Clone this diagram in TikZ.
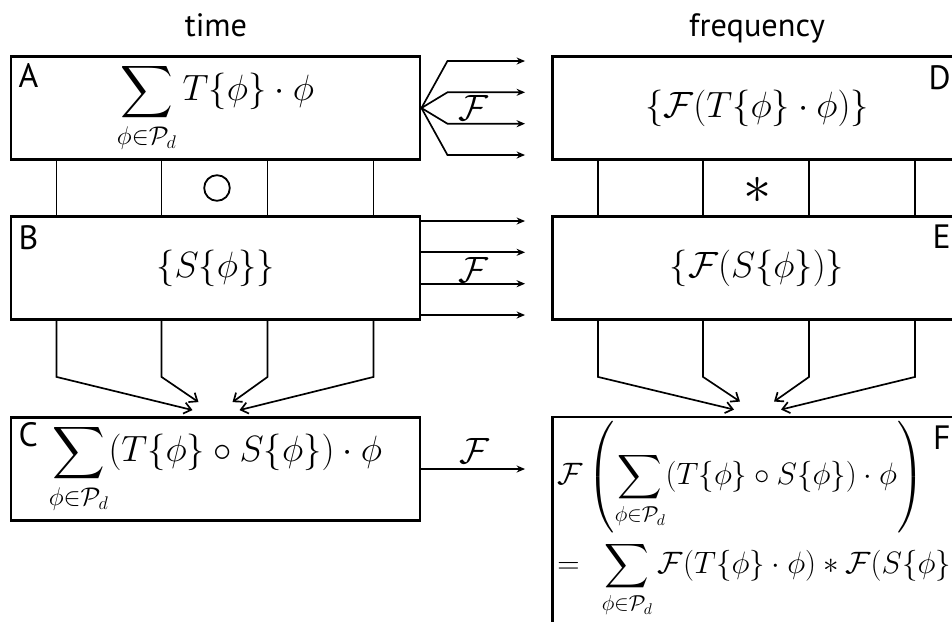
\RequirePackage{fix-cm}
\documentclass[tikz,border=0pt]{standalone}
\usepackage{amsmath,amssymb}
\usepackage{fontspec}
\setsansfont{PT Sans}
\usetikzlibrary{calc,arrows.meta,positioning}

\begin{document}
\begin{tikzpicture}[
  x=0.025cm, y=-0.025cm,
  block/.style={rectangle, draw, line width=2pt, minimum width=10.225cm, minimum height=2.575cm, inner sep=0pt},
  corner/.style={font=\sffamily\fontsize{24}{28}\selectfont, inner sep=0pt},
  heading/.style={font=\sffamily\fontsize{23}{27}\selectfont, inner sep=0pt},
  formula/.style={font=\fontsize{26}{31}\selectfont},
  wire/.style={line width=1.2pt},
  ray/.style={line width=1.2pt, -{Stealth[length=6pt,width=5pt]}},
  merge/.style={line width=1.2pt, -{Straight Barb[length=5pt,width=8pt]}}
]
  \clip (0,0) rectangle (952,621);
  \path[use as bounding box] (0,0) rectangle (952,621);

  \node[heading, anchor=base] (time) at (216,36) {time};
  \node[heading, anchor=base] (freq) at (757,36) {frequency};

  \node[block, formula, label={[corner, anchor=north west, xshift=0.22cm, yshift=-0.2cm]north west:A}] (A) at (215.5,108)
    {$\displaystyle\sum_{\phi\in\mathcal{P}_d} T\{\phi\}\cdot\phi$};
  \node[block, formula, label={[corner, anchor=north west, xshift=0.22cm, yshift=-0.25cm]north west:B}] (B) at (215.5,268)
    {$\{S\{\phi\}\}$};
  \node[block, formula, label={[corner, anchor=north west, xshift=0.22cm, yshift=-0.15cm]north west:C}] (C) at (215.5,469)
    {$\displaystyle\sum_{\phi\in\mathcal{P}_d} (T\{\phi\}\circ S\{\phi\})\cdot\phi$};
  \node[block, formula, label={[corner, anchor=north east, xshift=-0.3cm, yshift=-0.25cm]north east:D}] (D) at (757,108)
    {$\{\mathcal{F}(T\{\phi\}\cdot\phi)\}$};
  \node[block, formula, label={[corner, anchor=north east, xshift=-0.3cm, yshift=-0.25cm]north east:E}] (E) at (757,268)
    {$\{\mathcal{F}(S\{\phi\})\}$};
  \node[block, minimum height=5.75cm, label={[corner, anchor=north east, xshift=-0.3cm, yshift=-0.25cm]north east:F}] (F) at (757,532) {};
  \node[font=\fontsize{22}{26}\selectfont, anchor=north west, inner sep=0pt] (fsum) at (557,421)
    {$\begin{aligned}
      &\displaystyle\mathcal{F}\left(\sum_{\phi\in\mathcal{P}_d}(T\{\phi\}\circ S\{\phi\})\cdot\phi\right)\\[2pt]
      &\displaystyle{=}\;\;\sum_{\phi\in\mathcal{P}_d}\mathcal{F}(T\{\phi\}\cdot\phi)\ast\mathcal{F}(S\{\phi\})
    \end{aligned}$};

  \node[circle, draw, line width=1.3pt, minimum size=0.64cm, inner sep=0pt] (conv) at (217,188) {};
  \node[font=\fontsize{40}{48}\selectfont, inner sep=0pt] (star) at (758,190) {$\ast$};

  \foreach \dx in {47,152,258,364} {
    \draw[wire] ($(A.south west)+(\dx,0)$) -- ($(B.north west)+(\dx,0)$);
    \draw[wire] ($(D.south west)+(\dx,0)$) -- ($(E.north west)+(\dx,0)$);
  }
  \foreach \dx/\tx/\ty in {47/-23/-6, 152/-17/-14, 258/17/-14, 364/24/-6} {
    \draw[merge] ($(B.south west)+(\dx,0)$) -- ++(0,56) -- ($(C.north)+(\tx,\ty)$);
    \draw[merge] ($(E.south west)+(\dx,0)$) -- ++(0,56) -- ($(F.north)+(\tx,\ty)$);
  }

  \foreach \dy in {-47,-15.7,15.7,47} {
    \draw[ray] (A.east) -- ++(26,\dy) -- ($(D.west)+(-26,\dy)$);
    \draw[ray] ($(B.east)+(0,\dy)$) -- ($(E.west)+(-26,\dy)$);
  }
  \coordinate (cf) at ($(F.west |- C.east)+(-26,0)$);
  \draw[ray] (C.east) -- (cf);

  \node[formula] (fa) at (473,108) {$\mathcal{F}$};
  \node[formula] (fb) at (473,270) {$\mathcal{F}$};
  \node[formula] (fc) at (474,451) {$\mathcal{F}$};
\end{tikzpicture}
\end{document}
